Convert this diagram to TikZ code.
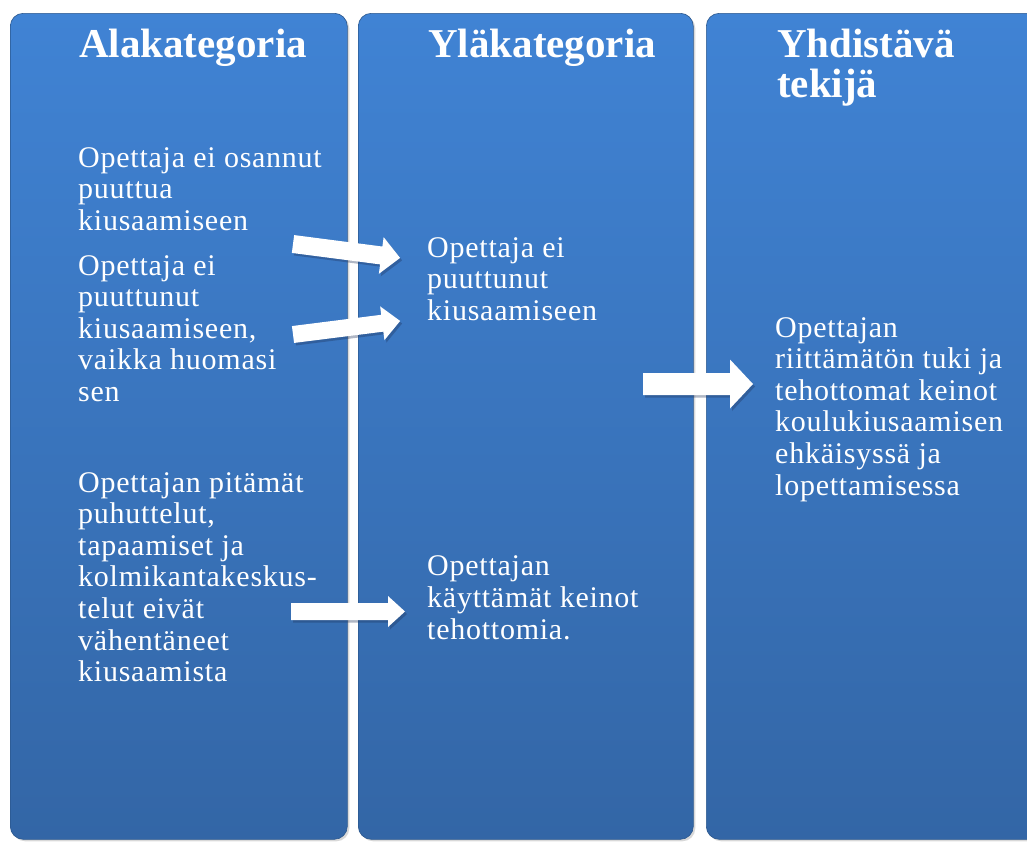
\documentclass[tikz,border=0pt]{standalone}
\usepackage{fontspec}
\setmainfont{Liberation Serif}
\newfontfamily\bodyfont[LetterSpace=2.5]{Liberation Serif}
\usetikzlibrary{shadows}
\definecolor{coltop}{RGB}{64,131,212}
\definecolor{colbot}{RGB}{51,102,166}
\definecolor{shadowblue}{RGB}{30,50,90}
\tikzset{
  column/.style={rectangle, rounded corners=13pt, top color=coltop, bottom color=colbot,
    draw=colbot!85!black, line width=0.6pt, inner sep=0pt, anchor=north west,
    drop shadow={opacity=0.3, shadow xshift=2pt, shadow yshift=-2pt}},
  headtext/.style={anchor=base west, inner sep=0pt, text=white, align=left,
    font=\fontsize{41}{40}\selectfont\bfseries},
  bodytext/.style={anchor=base west, inner sep=0pt, text=white, align=left,
    font=\bodyfont\fontsize{30}{31.6}\selectfont},
  arrowfill/.style={fill=white,
    drop shadow={opacity=0.35, shadow xshift=2pt, shadow yshift=-2.5pt, fill=shadowblue}}
}
\newcommand\blockarrow[7]{%
  \begin{scope}[shift={(#1,#2)}, rotate=#3]
    \fill[arrowfill] (0,{-#5/2}) -- ({#4-#7},{-#5/2}) -- ({#4-#7},{-#6/2}) -- (#4,0)
      -- ({#4-#7},{#6/2}) -- ({#4-#7},{#5/2}) -- (0,{#5/2}) -- cycle;
  \end{scope}}
\begin{document}
\begin{tikzpicture}[x=1pt,y=-1pt]
\useasboundingbox (0,0) rectangle (1027,841);
\clip (0,0) rectangle (1027,841);
\fill[white] (0,0) rectangle (1027,841);
% columns
\node[column, minimum width=337pt, minimum height=826pt] (c1) at (10,13) {};
\node[column, minimum width=335pt, minimum height=826pt] (c2) at (358,13) {};
\node[column, minimum width=345pt, minimum height=826pt] (c3) at (706,13) {};
% headings (anchor = baseline of last line)
\node[headtext] (h1) at (79,57) {Alakategoria};
\node[headtext] (h2) at (428,57) {Yläkategoria};
\node[headtext] (h3) at (777,97) {Yhdistävä\\tekijä};
% column 1
\node[bodytext] (a1) at (78,230.2) {Opettaja ei osannut\\puuttua\\kiusaamiseen};
\node[bodytext] (a2) at (78,401.4) {Opettaja ei\\puuttunut\\kiusaamiseen,\\vaikka huomasi\\sen};
\node[bodytext] (a3) at (78,681.6) {Opettajan pitämät\\puhuttelut,\\tapaamiset ja\\kolmikantakeskus-\\telut eivät\\vähentäneet\\kiusaamista};
% column 2
\node[bodytext] (b1) at (427,320.2) {Opettaja ei\\puuttunut\\kiusaamiseen};
\node[bodytext] (b2) at (427,639) {Opettajan\\käyttämät keinot\\tehottomia.};
% column 3
\node[bodytext] (d1) at (775,495) {Opettajan\\riittämätön tuki ja\\tehottomat keinot\\koulukiusaamisen\\ehkäisyssä ja\\lopettamisessa};
% block arrows
\blockarrow{293}{244}{-7.4}{108}{18}{37}{19}
\blockarrow{293}{334.5}{7.2}{108}{17}{34}{18}
\blockarrow{643}{384}{0}{110}{22}{49}{23}
\blockarrow{291}{611.5}{0}{114}{17}{31}{17}
\end{tikzpicture}
\end{document}
